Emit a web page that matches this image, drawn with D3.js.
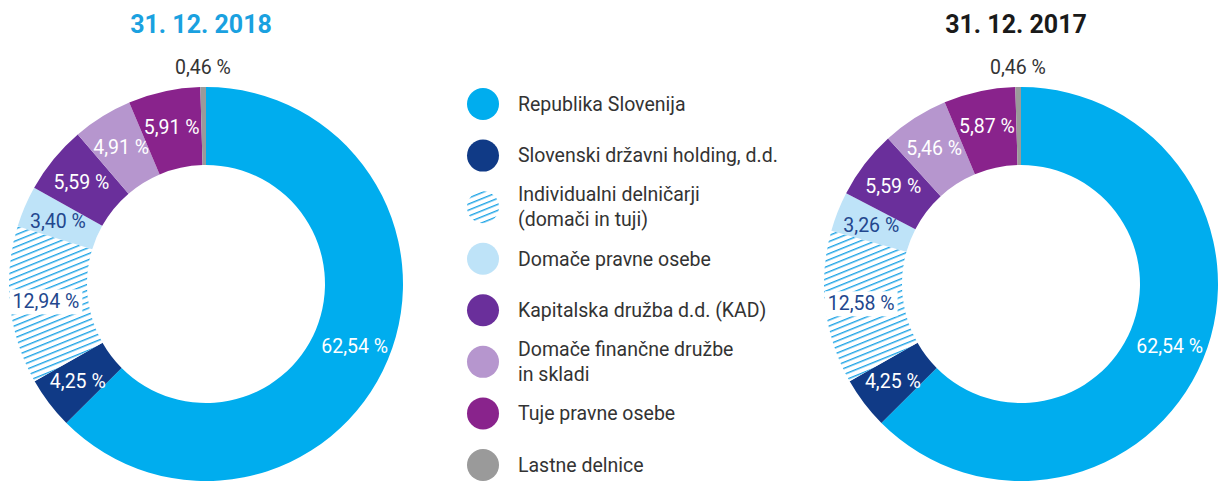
<!DOCTYPE html>
<html>
<head>
<meta charset="utf-8">
<script src="https://cdn.jsdelivr.net/npm/d3@7"></script>
<style>
  body { margin: 0; background: #fff; }
  svg text { font-family: Roboto, "Noto Sans", sans-serif; }
</style>
</head>
<body>
<svg id="chart" width="1219" height="482"></svg>
<script>
// data
const categories = [
    "Republika Slovenija",
    "Slovenski državni holding, d.d.",
    "Individualni delničarji\n(domači in tuji)",
    "Domače pravne osebe",
    "Kapitalska družba d.d. (KAD)",
    "Domače finančne družbe\nin skladi",
    "Tuje pravne osebe",
    "Lastne delnice"
];
const values2018 = [62.54, 4.25, 12.94, 3.40, 5.59, 4.91, 5.91, 0.46];
const values2017 = [62.54, 4.25, 12.58, 3.26, 5.59, 5.46, 5.87, 0.46];
const titles = ["31. 12. 2018", "31. 12. 2017"];

// styles
const colors = ["#00adee", "#103a86", "url(#hatch)", "#bee3f8", "#6a2f9b", "#b696ce", "#89238c", "#9a9a9a"];
const labelColors = ["#fff", "#fff", "#23478e", "#23478e", "#fff", "#fff", "#fff", "#333"];
const titleColors = ["#1aa1e0", "#1a1a1a"];

const svg = d3.select("#chart");

// hatch pattern for individual shareholders
const defs = svg.append("defs");
const pat = defs.append("pattern")
    .attr("id", "hatch")
    .attr("patternUnits", "userSpaceOnUse")
    .attr("width", 20)
    .attr("height", 5.6)
    .attr("patternTransform", "rotate(-22)");
pat.append("rect").attr("width", 20).attr("height", 5.6).attr("fill", "#fff");
pat.append("rect").attr("y", 0).attr("width", 20).attr("height", 1.4).attr("fill", "#1ea4e6");

const outerR = 197;
const innerR = 119;
const cy = 284;

const pie = d3.pie().sort(null).value(d => d);
const arc = d3.arc().innerRadius(innerR).outerRadius(outerR);
const labelArc = d3.arc().innerRadius(innerR + 3).outerRadius(outerR + 3);
const outsideArc = d3.arc().innerRadius(outerR + 20).outerRadius(outerR + 20);
const fmt = v => d3.format(".2f")(v).replace(".", ",") + " %";

function donut(values, cx, title, titleColor) {
    const g = svg.append("g").attr("transform", `translate(${cx},${cy})`);

    svg.append("text")
        .attr("x", cx - 5)
        .attr("y", 33)
        .attr("text-anchor", "middle")
        .attr("fill", titleColor)
        .style("font-size", "25px")
        .style("font-weight", "bold")
        .text(title);

    const arcs = pie(values);

    g.selectAll("path")
        .data(arcs)
        .join("path")
        .attr("d", arc)
        .attr("fill", (d, i) => colors[i]);

    arcs.forEach((d, i) => {
        const small = d.data < 1;
        const [x, y] = small ? outsideArc.centroid(d) : labelArc.centroid(d);
        const t = g.append("text")
            .attr("x", x)
            .attr("y", y)
            .attr("dy", "0.35em")
            .attr("text-anchor", "middle")
            .attr("fill", labelColors[i])
            .style("font-size", "19.5px")
            .text(fmt(d.data));

        // white box behind label on hatched slice
        if (colors[i].startsWith("url")) {
            const b = t.node().getBBox();
            g.insert("rect", "text")
                .attr("x", b.x - 3)
                .attr("y", b.y - 1)
                .attr("width", b.width + 6)
                .attr("height", b.height + 2)
                .attr("fill", "#fff");
        }
    });
}

donut(values2018, 206, titles[0], titleColors[0]);
donut(values2017, 1021, titles[1], titleColors[1]);

// legend
const legendY = d3.scaleLinear().domain([0, categories.length - 1]).range([104, 465]);
const legend = svg.append("g");

categories.forEach((name, i) => {
    const y = legendY(i);
    legend.append("circle")
        .attr("cx", 483)
        .attr("cy", y)
        .attr("r", 16)
        .attr("fill", colors[i]);

    const lines = name.split("\n");
    const txt = legend.append("text")
        .attr("x", 518)
        .attr("y", y - (lines.length - 1) * 12.5)
        .attr("fill", "#333")
        .style("font-size", "19.5px");
    lines.forEach((line, k) => {
        txt.append("tspan")
            .attr("x", 518)
            .attr("dy", k === 0 ? "0.35em" : "25px")
            .text(line);
    });
});
</script>
</body>
</html>
